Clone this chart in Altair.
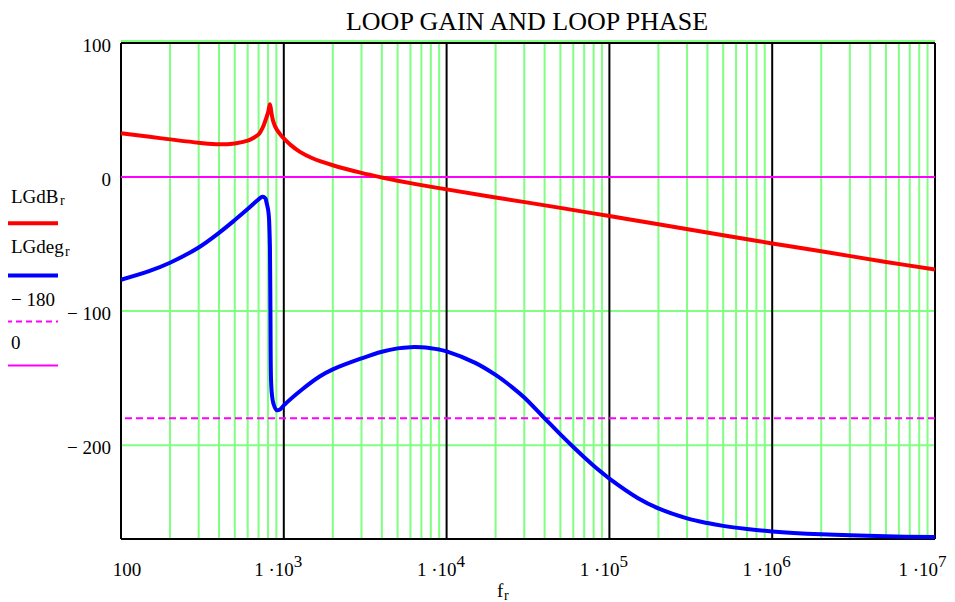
import altair as alt
import pandas as pd

# ---------------- data ----------------
freq_gain = [100, 150, 200, 300, 400, 500, 600, 650, 700, 715, 727, 755, 781, 803, 822,
             841, 862, 903, 967, 1000, 1100, 1250, 1500, 2000, 3000, 4000, 5000, 7000,
             1e4, 2e4, 5e4, 1e5, 2e5, 5e5, 1e6, 2e6, 5e6, 1e7]
gain_db = [32.6, 30.0, 28.1, 25.6, 24.4, 25.1, 27.1, 29.1, 31.8, 33.3, 34.8, 39.1, 44.1,
           48.9, 54.4, 47.5, 41.3, 35.6, 30.8, 28.8, 24.0, 19.0, 14.0, 8.8, 3.1, -0.3,
           -2.7, -6.0, -9.2, -15.2, -23.0, -29.1, -35.2, -43.4, -49.5, -55.4, -63.3, -69.0]

freq_phase = [100, 150, 200, 300, 400, 500, 600, 700, 740, 770, 781, 800, 810, 816, 822,
              828, 835, 845, 862, 903, 950, 1000, 1300, 1660, 2000, 3000, 4000, 5000,
              6000, 7000, 8000, 9000, 1e4, 1.5e4, 2e4, 2.5e4, 3e4, 4e4, 5e4, 6e4, 7e4,
              8e4, 9e4, 1e5, 1.5e5, 2e5, 3e5, 4e5, 5e5, 7e5, 1e6, 2e6, 5e6, 1e7]
phase_deg = [-76.6, -70.0, -63.9, -52.5, -41.6, -32.1, -23.9, -16.6, -14.7, -15.8, -18.4,
             -24.0, -29.6, -38.0, -52.0, -101.0, -151.5, -162.0, -168.7, -173.9, -173.2,
             -170.3, -158.3, -148.8, -143.5, -135.3, -130.3, -127.8, -126.9, -127.0,
             -127.7, -128.7, -130.0, -138.6, -147.6, -156.3, -164.5, -180.0, -192.0,
             -201.4, -209.0, -215.3, -220.5, -225.0, -239.6, -247.2, -254.6, -258.1,
             -260.2, -262.5, -264.4, -266.5, -268.0, -268.5]

minor_grid = [m * 10 ** k for k in range(2, 7) for m in range(2, 10)]
decades = [1e3, 1e4, 1e5, 1e6]
h_grid = [0, -100, -200]
y_ticks = [100, 0, -100, -200]
y_tick_labels = ["100", "0", "\u2212 100", "\u2212 200"]
x_tick_vals = [1e3, 1e4, 1e5, 1e6]
x_tick_mant = ["1 \u00b710", "1 \u00b710", "1 \u00b710", "1 \u00b710"]
x_tick_exp = ["3", "4", "5", "6"]
x_last_val, x_last_mant, x_last_exp = 1e7, "1 \u00b710", "7"
phase_limit = -180
zero_level = 0

# ---------------- styling ----------------
W, H = 814, 496
FONT = "Liberation Serif"
GREEN = "#80FF80"
MAG = "#FF00FF"
RED = "#FF0000"
BLUE = "#0000FF"

xscale = alt.Scale(type="log", domain=[100, 1e7], nice=False)
yscale = alt.Scale(domain=[-270, 100], nice=False, zero=False)
one = pd.DataFrame({"a": [0]})


def X(field):
    return alt.X(field, type="quantitative", scale=xscale, axis=None)


def Y(field):
    return alt.Y(field, type="quantitative", scale=yscale, axis=None)


gain_df = pd.DataFrame({"f": freq_gain, "v": gain_db})
phase_df = pd.DataFrame({"f": freq_phase, "v": phase_deg})

vgrid = alt.Chart(pd.DataFrame({"f": minor_grid})).mark_rule(
    color=GREEN, strokeWidth=2).encode(x=X("f"))

hgrid = alt.Chart(pd.DataFrame({"y": h_grid})).mark_rule(
    color=GREEN, strokeWidth=2).encode(y=Y("y"))

dec = alt.Chart(pd.DataFrame({"f": decades})).mark_rule(
    color="black", strokeWidth=2).encode(x=X("f"))

frame_v = alt.Chart(pd.DataFrame({"f": [100, 1e7]})).mark_rule(
    color="black", strokeWidth=2).encode(x=X("f"))
frame_h = alt.Chart(pd.DataFrame({"y": [-270, 100]})).mark_rule(
    color="black", strokeWidth=2).encode(y=Y("y"))
top_green = alt.Chart(pd.DataFrame({"y": [100]})).mark_rule(
    color=GREEN, strokeWidth=2, yOffset=-2).encode(y=Y("y"))

zero_line = alt.Chart(pd.DataFrame({"y": [zero_level]})).mark_rule(
    color=MAG, strokeWidth=2).encode(y=Y("y"))
lim_line = alt.Chart(pd.DataFrame({"y": [phase_limit]})).mark_rule(
    color=MAG, strokeWidth=2, strokeDash=[7, 4]).encode(y=Y("y"))

red = alt.Chart(gain_df).mark_line(color=RED, strokeWidth=4, interpolate="catmull-rom").encode(
    x=X("f"), y=Y("v"))
blue = alt.Chart(phase_df).mark_line(color=BLUE, strokeWidth=4, interpolate="catmull-rom").encode(
    x=X("f"), y=Y("v"))

# y tick labels
yt = alt.Chart(pd.DataFrame({"v": y_ticks, "t": y_tick_labels})).mark_text(
    font=FONT, fontSize=19, align="right", baseline="middle", dy=3, color="black").encode(
    x=alt.value(-10), y=Y("v"), text="t:N")

# x tick labels
xt_df = pd.DataFrame({"f": x_tick_vals, "m": x_tick_mant, "e": x_tick_exp})
xt_main = alt.Chart(xt_df).mark_text(font=FONT, fontSize=19, align="right", dx=10,
                                     baseline="alphabetic", color="black").encode(
    x=X("f"), y=alt.value(533), text="m:N")
xt_exp = alt.Chart(xt_df).mark_text(font=FONT, fontSize=17, align="left", dx=10,
                                    baseline="alphabetic", color="black").encode(
    x=X("f"), y=alt.value(524), text="e:N")
last_df = pd.DataFrame({"f": [x_last_val], "m": [x_last_mant], "e": [x_last_exp]})
xt_last_main = alt.Chart(last_df).mark_text(font=FONT, fontSize=19, align="right", dx=3,
                                            baseline="alphabetic", color="black").encode(
    x=X("f"), y=alt.value(533), text="m:N")
xt_last_exp = alt.Chart(last_df).mark_text(font=FONT, fontSize=17, align="left", dx=3,
                                           baseline="alphabetic", color="black").encode(
    x=X("f"), y=alt.value(524), text="e:N")
xt_first = alt.Chart(pd.DataFrame({"f": [100], "t": ["100"]})).mark_text(
    font=FONT, fontSize=19, align="center", dx=6, baseline="alphabetic", color="black").encode(
    x=X("f"), y=alt.value(533), text="t:N")


def txt(s, x, y, size=19):
    return alt.Chart(one).mark_text(font=FONT, fontSize=size, align="left",
                                    baseline="alphabetic", color="black", text=s).encode(
        x=alt.value(x), y=alt.value(y))


def leg_line(color, y, width, dash=None):
    kw = dict(color=color, strokeWidth=width)
    if dash is not None:
        kw["strokeDash"] = dash
    return alt.Chart(one).mark_rule(**kw).encode(
        x=alt.value(-115), x2=alt.value(-63), y=alt.value(y))


title = alt.Chart(one).mark_text(font=FONT, fontSize=26, align="center",
                                 baseline="alphabetic", color="black",
                                 text="LOOP GAIN AND LOOP PHASE").encode(
    x=alt.value(W / 2 - 1), y=alt.value(-13))

legend = [
    txt("LGdB", -110, 159.5), txt("r", -61, 162, 14), leg_line(RED, 180.2, 4),
    txt("LGdeg", -110, 210.2), txt("r", -56, 213, 14), leg_line(BLUE, 232.5, 4),
    txt("\u2212 180", -110, 262.5), leg_line(MAG, 278.5, 2, [6, 4]),
    txt("0", -110, 305.8), leg_line(MAG, 322.5, 2),
]

xlabel = [txt("f", 376, 553.5), txt("r", 383, 556.5, 14)]

chart = alt.layer(
    vgrid, hgrid, dec, frame_v, frame_h, top_green, zero_line, lim_line,
    red, blue, yt, xt_main, xt_exp, xt_last_main, xt_last_exp, xt_first, title,
    *legend, *xlabel
).properties(
    width=W, height=H,
    autosize=alt.AutoSizeParams(type="none"),
    padding={"left": 113, "top": 35, "right": 12, "bottom": 70},
    background="white",
).configure_view(stroke=None)

chart.save("out.html", embed_options={"renderer": "svg", "actions": False})
